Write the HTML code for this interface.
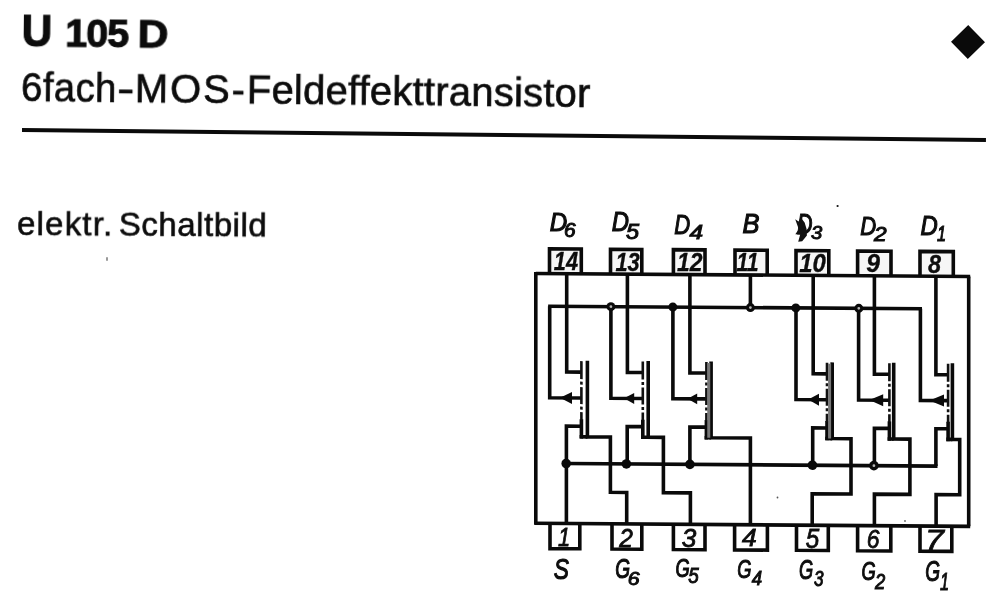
<!DOCTYPE html>
<html lang="de">
<head>
<meta charset="utf-8">
<title>U 105 D – 6fach-MOS-Feldeffekttransistor</title>
<style>
html,body{margin:0;padding:0;background:#fff;}
body{width:1000px;height:601px;position:relative;overflow:hidden;font-family:"Liberation Sans",sans-serif;color:#0c0c0c;}
.hdr{position:absolute;left:0;top:0;width:1000px;height:160px;transform:rotate(0.62deg);transform-origin:20px 100px;}
h1{position:absolute;left:21px;top:10.4px;margin:0;font-size:39.5px;line-height:44px;font-weight:bold;white-space:nowrap;-webkit-text-stroke:1px #0c0c0c;}
h1 .u{display:inline-block;transform:translateY(0px) scale(1.07,1.105);transform-origin:0 81%;}
h1 .n{margin-left:4px;letter-spacing:-1px;}
h1 .d{margin-left:-1px;display:inline-block;transform:scaleX(1.08);transform-origin:0 50%;}
h2{position:absolute;left:20.5px;top:64.5px;margin:0;font-size:40px;line-height:44px;font-weight:normal;white-space:nowrap;letter-spacing:0.5px;-webkit-text-stroke:0.65px #0c0c0c;}
.rule{position:absolute;left:21.5px;top:128.2px;width:964.3px;height:3.6px;background:#0a0a0a;transform:rotate(0.594deg);transform-origin:0 50%;}
.diamond{position:absolute;left:956.2px;top:30.2px;width:24px;height:24px;background:#0a0a0a;transform:rotate(46deg);}
.cap{position:absolute;left:16.5px;top:206.4px;margin:0;font-size:33px;line-height:36px;white-space:nowrap;transform:rotate(0.35deg);transform-origin:0 100%;-webkit-text-stroke:0.6px #0c0c0c;word-spacing:-4px;}
h2 .s{display:inline-block;transform:scaleX(0.955);transform-origin:0 50%;margin-right:-4.2px;}
h2 .h{display:inline-block;transform:scaleX(1.3);transform-origin:0 50%;margin-right:4.2px;}
h2 .m{letter-spacing:1.9px;}
h2 .f{letter-spacing:0.22px;}
.cap .a{letter-spacing:1.2px;}
.cap .b{letter-spacing:0.55px;}
.speck{position:absolute;left:106px;top:257px;width:2px;height:4px;background:#999;border-radius:1px;}
.dia{position:absolute;left:0;top:0;filter:blur(0.35px);}
.hdr,.cap,.rule,.diamond{filter:blur(0.3px);}
.lbl text{font-family:"Liberation Sans",sans-serif;font-style:italic;}
</style>
</head>
<body>
<div class="hdr">
<h1><span class="u">U</span> <span class="n">105</span> <span class="d">D</span></h1>
<h2><span class="s">6fach</span><span class="h">-</span><span class="m">MOS-</span><span class="f">Feldeffekttransistor</span></h2>
</div>
<div class="rule"></div>
<div class="diamond"></div>
<p class="cap"><span class="a">elektr.</span> <span class="b">Schaltbild</span></p>
<div class="speck"></div>
<svg class="dia" width="1000" height="601" viewBox="0 0 1000 601">
<g transform="matrix(1 0.007 0 1 0.4 -3.245)">
<rect x="549.1" y="248.2" width="31.8" height="24.8" fill="#f6f6f6"/>
<rect x="610.1" y="248.2" width="31.3" height="24.8" fill="#f6f6f6"/>
<rect x="673" y="248.2" width="31.6" height="24.8" fill="#f6f6f6"/>
<rect x="734.6" y="248.2" width="32.2" height="24.8" fill="#f6f6f6"/>
<rect x="795.6" y="248.2" width="32.8" height="24.8" fill="#f6f6f6"/>
<rect x="857.2" y="248.2" width="33.4" height="24.8" fill="#f6f6f6"/>
<rect x="919.6" y="248.2" width="33.3" height="24.8" fill="#f6f6f6"/>
<g fill="none" stroke="#0a0a0a" stroke-width="3.6" stroke-linejoin="miter" stroke-linecap="butt">
<path d="M535.4 273 L969.8 273"/>
<path d="M535.4 271.5 L535.4 524.3"/>
<path d="M534.4 522.8 L969.8 522.8"/>
<path d="M968.3 273 L968.3 522.8"/>
<path d="M549.1 273 L549.1 248.2 L580.9 248.2 L580.9 273"/>
<path d="M610.1 273 L610.1 248.2 L641.4 248.2 L641.4 273"/>
<path d="M673 273 L673 248.2 L704.6 248.2 L704.6 273"/>
<path d="M734.6 273 L734.6 248.2 L766.8 248.2 L766.8 273"/>
<path d="M795.6 273 L795.6 248.2 L828.4 248.2 L828.4 273"/>
<path d="M857.2 273 L857.2 248.2 L890.6 248.2 L890.6 273"/>
<path d="M919.6 273 L919.6 248.2 L952.9 248.2 L952.9 273"/>
<path d="M549.6 522.8 L549.6 548 L579.4 548 L579.4 522.8"/>
<path d="M611.6 522.8 L611.6 548 L641.4 548 L641.4 522.8"/>
<path d="M673 522.8 L673 548 L704.6 548 L704.6 522.8"/>
<path d="M734.2 522.8 L734.2 548 L767 548 L767 522.8"/>
<path d="M796.1 522.8 L796.1 548 L827.9 548 L827.9 522.8"/>
<path d="M857.2 522.8 L857.2 548 L890.4 548 L890.4 522.8"/>
<path d="M919.6 522.8 L919.6 548 L951.4 548 L951.4 522.8"/>
<path d="M566.3 273 L566.3 371.3 L581 371.3"/>
<path d="M549.3 305.6 L549.3 397.2 L581 397.2"/>
<path d="M581 425.4 L566 425.4 L566 522.8"/>
<path d="M587 359.8 L587 436 L610 436 L610 491.3 L626.3 491.3 L626.3 522.8"/>
<path d="M581 418.4 L581 437.8"/>
<path d="M579.2 436 L587 436"/>
<path d="M627 273 L627 371.3 L642.4 371.3"/>
<path d="M610.5 305.6 L610.5 397.2 L642.4 397.2"/>
<path d="M642.4 425.4 L626.8 425.4 L626.8 462.8"/>
<path d="M647.8 359.8 L647.8 436 L663 436 L663 491.3 L690 491.3 L690 522.8"/>
<path d="M642.4 418.4 L642.4 437.8"/>
<path d="M640.6 436 L647.8 436"/>
<path d="M689.5 273 L689.5 371.3 L706 371.3"/>
<path d="M672.5 305.6 L672.5 397.2 L706 397.2"/>
<path d="M706 425.4 L689.5 425.4 L689.5 462.8"/>
<path d="M710.7 359.8 L710.7 436 L750 436 L750 522.8"/>
<path d="M706 418.4 L706 437.8"/>
<path d="M704.2 436 L710.7 436"/>
<path d="M812.8 273 L812.8 371.3 L826.6 371.3"/>
<path d="M795.6 305.6 L795.6 397.2 L826.6 397.2"/>
<path d="M826.6 425.4 L812.3 425.4 L812.3 462.8"/>
<path d="M831.8 359.8 L831.8 436 L850.6 436 L850.6 491.3 L811.8 491.3 L811.8 522.8"/>
<path d="M826.6 418.4 L826.6 437.8"/>
<path d="M824.8 436 L831.8 436"/>
<path d="M874 273 L874 371.3 L889 371.3"/>
<path d="M858.2 305.6 L858.2 397.2 L889 397.2"/>
<path d="M889 425.4 L874 425.4 L874 462.8"/>
<path d="M893.3 359.8 L893.3 436 L909.5 436 L909.5 491.3 L874 491.3 L874 522.8"/>
<path d="M889 418.4 L889 437.8"/>
<path d="M887.2 436 L893.3 436"/>
<path d="M935.5 273 L935.5 371.3 L947.7 371.3"/>
<path d="M920 305.6 L920 397.2 L947.7 397.2"/>
<path d="M947.7 425.4 L935.5 425.4 L935.5 462.8"/>
<path d="M952 359.8 L952 436 L959.3 436 L959.3 491.3 L935.7 491.3 L935.7 522.8"/>
<path d="M947.7 418.4 L947.7 437.8"/>
<path d="M945.9 436 L952 436"/>
<path d="M547.7 305.6 L921.6 305.6"/>
<path d="M566 462.8 L937.1 462.8"/>
<path d="M750 273 L750 305.6"/>
</g>
<g fill="none" stroke="#111" stroke-width="2.6" stroke-dasharray="18 2.5 3 2.5 17 2.5 3 2.5 100">
<path d="M581 360.3 L581 419.4"/>
<path d="M642.4 360.3 L642.4 419.4"/>
<path d="M706 360.3 L706 419.4"/>
<path d="M826.6 360.3 L826.6 419.4"/>
<path d="M889 360.3 L889 419.4"/>
<path d="M947.7 360.3 L947.7 419.4"/>
</g>
<g fill="none" stroke="#777" stroke-width="3">
<path d="M708.35 361.3 L708.35 436"/>
<path d="M829.2 361.3 L829.2 436"/>
</g>
<g fill="#0a0a0a">
<path d="M559.6 397.2 L571.6 391.2 V403.2 z"/>
<path d="M623.6 397.2 L633.8 391.7 V402.7 z"/>
<path d="M687.2 397.2 L696.8 391.9 V402.5 z"/>
<path d="M807.8 397.2 L818.6 391.2 V403.2 z"/>
<path d="M869 397.2 L882.8 391.2 V403.2 z"/>
<path d="M929.1 397.2 L943.6 391.2 V403.2 z"/>
<circle cx="610.5" cy="305.6" r="4.5"/>
<circle cx="672.5" cy="305.6" r="4.5"/>
<circle cx="750" cy="305.6" r="4.5"/>
<circle cx="795.4" cy="305.6" r="4.5"/>
<circle cx="858.4" cy="305.6" r="4.5"/>
<circle cx="565.8" cy="462.8" r="4.8"/>
<circle cx="626" cy="462.8" r="4.8"/>
<circle cx="689.5" cy="462.8" r="4.8"/>
<circle cx="812" cy="462.8" r="4.8"/>
<circle cx="873.5" cy="462.8" r="4.8"/>
<circle cx="610.5" cy="305.6" r="1.4" fill="#b5b5b5"/>
<circle cx="750" cy="305.6" r="1.4" fill="#b5b5b5"/>
<circle cx="858.4" cy="305.6" r="1.4" fill="#b5b5b5"/>
<circle cx="873.5" cy="462.8" r="1.4" fill="#b5b5b5"/>
</g>
</g>
<g class="lbl" fill="#0d0d0d" stroke="#0d0d0d">
<text transform="translate(549.79 231.08) scale(0.940 1)" font-size="25.75" stroke-width="1.15">D</text>
<text transform="translate(563.91 237.35) scale(1.062 1)" font-size="19.58" stroke-width="1.0">6</text>
<text transform="translate(611.80 231.48) scale(0.860 1)" font-size="27.78" stroke-width="1.15">D</text>
<text transform="translate(625.98 238.93) scale(1.090 1)" font-size="21.57" stroke-width="1.0">5</text>
<text transform="translate(674.26 233.88) scale(0.786 1)" font-size="28.07" stroke-width="1.15">D</text>
<text transform="translate(689.45 239.35) scale(1.212 1)" font-size="20.14" stroke-width="1.0">4</text>
<text transform="translate(742.55 233.28) scale(0.909 1)" font-size="28.07" stroke-width="1.15">B</text>
<text transform="translate(797.07 233.98) scale(0.742 1)" font-size="28.93" stroke-width="1.15">D</text>
<text transform="translate(811.05 238.77) scale(1.094 1)" font-size="18.45" stroke-width="1.0">3</text>
<text transform="translate(860.26 235.08) scale(0.838 1)" font-size="26.33" stroke-width="1.15">D</text>
<text transform="translate(873.88 241.15) scale(1.126 1)" font-size="20.14" stroke-width="1.0">2</text>
<text transform="translate(920.60 235.08) scale(0.851 1)" font-size="28.07" stroke-width="1.15">D</text>
<text transform="translate(937.12 241.15) scale(0.765 1)" font-size="21.30" stroke-width="1.0">1</text>
<text transform="translate(553.86 579.18) scale(0.760 1)" font-size="29.95" stroke-width="1.15">S</text>
<text transform="translate(615.35 578.01) scale(0.700 1)" font-size="27.27" stroke-width="1.15">G</text>
<text transform="translate(627.69 584.76) scale(1.114 1)" font-size="19.01" stroke-width="1.0">6</text>
<text transform="translate(675.39 577.02) scale(0.705 1)" font-size="25.87" stroke-width="1.15">G</text>
<text transform="translate(688.37 582.93) scale(0.876 1)" font-size="21.57" stroke-width="1.0">5</text>
<text transform="translate(737.19 578.02) scale(0.690 1)" font-size="26.43" stroke-width="1.15">G</text>
<text transform="translate(751.85 584.95) scale(0.926 1)" font-size="20.14" stroke-width="1.0">4</text>
<text transform="translate(798.99 579.20) scale(0.649 1)" font-size="28.12" stroke-width="1.15">G</text>
<text transform="translate(813.91 585.93) scale(0.776 1)" font-size="22.11" stroke-width="1.0">3</text>
<text transform="translate(861.39 579.82) scale(0.690 1)" font-size="26.43" stroke-width="1.15">G</text>
<text transform="translate(875.03 588.55) scale(0.853 1)" font-size="21.57" stroke-width="1.0">2</text>
<text transform="translate(925.35 580.99) scale(0.659 1)" font-size="28.96" stroke-width="1.15">G</text>
<text transform="translate(940.12 589.75) scale(0.666 1)" font-size="24.49" stroke-width="1.0">1</text>
<text transform="translate(557.92 546.04) scale(0.875 1)" font-size="25.04" stroke-width="0.8">1</text>
<text transform="translate(619.20 546.64) scale(0.956 1)" font-size="25.54" stroke-width="0.8">2</text>
<text transform="translate(681.84 546.58) scale(0.995 1)" font-size="26.31" stroke-width="0.8">3</text>
<text transform="translate(741.96 545.64) scale(1.131 1)" font-size="23.26" stroke-width="0.8">4</text>
<text transform="translate(805.68 548.17) scale(0.889 1)" font-size="27.26" stroke-width="0.8">5</text>
<text transform="translate(866.81 548.17) scale(0.861 1)" font-size="26.59" stroke-width="0.8">6</text>
<text transform="translate(924.96 550.04) scale(1.130 1)" font-size="30.11" stroke-width="0.8">7</text>
</g>
<g class="lbl pn" fill="#0d0d0d" stroke="#0d0d0d" stroke-width="0.35" font-weight="bold" text-anchor="middle">
<text transform="translate(566.0 270.2) scale(0.84 1)" font-size="26">14</text>
<text transform="translate(627.6 270.6) scale(0.84 1)" font-size="26">13</text>
<text transform="translate(689.8 270.8) scale(0.88 1)" font-size="26">12</text>
<text transform="translate(747.6 271.4) scale(0.82 1)" font-size="26">11</text>
<text transform="translate(812.6 272.0) scale(0.92 1)" font-size="26">10</text>
<text transform="translate(873.0 272.4) scale(0.95 1)" font-size="26">9</text>
<text transform="translate(934.6 273.2) scale(0.9 1)" font-size="26">8</text>
</g>
<g fill="#111">
<path d="M795.2 219.2 L798.6 221.5 L800.8 217.6 L804.6 222.5 L806.6 229 L806.9 235.5 L802.2 241.2 L798.2 241.8 L800.2 234.6 L795.3 234.2 L798.8 229.2 Z"/>
<circle cx="837.6" cy="206" r="1.1"/>
<circle cx="777.5" cy="497.5" r="0.9" fill="#555"/>
<circle cx="905" cy="521" r="0.9" fill="#666"/>
</g>
</svg>
</body>
</html>
